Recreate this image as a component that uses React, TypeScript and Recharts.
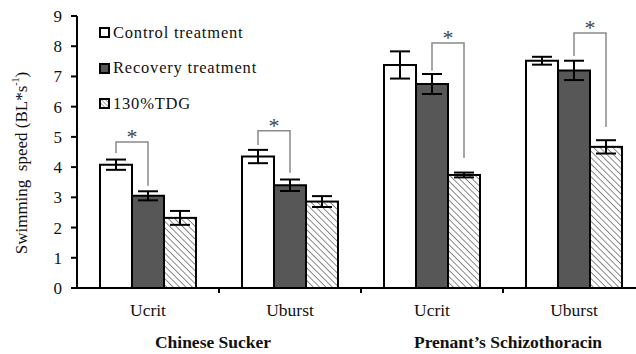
import React from 'react';
import { BarChart, Bar, XAxis, YAxis, ErrorBar, Legend } from 'recharts';

const categories = ['Ucrit', 'Uburst', 'Ucrit', 'Uburst'];
const groupLabels = ['Chinese Sucker', 'Prenant\u2019s Schizothoracin'];
const control = [4.08, 4.35, 7.38, 7.52];
const controlErr = [0.17, 0.22, 0.45, 0.13];
const recovery = [3.05, 3.4, 6.75, 7.2];
const recoveryErr = [0.15, 0.19, 0.33, 0.32];
const tdg = [2.32, 2.86, 3.74, 4.67];
const tdgErr = [0.23, 0.18, 0.08, 0.22];
// significance brackets: 0 = control vs recovery, 1 = recovery vs 130%TDG
const bracketPair = [0, 0, 1, 1];
const bracketTop = [4.83, 5.2, 8.11, 8.44];
const bracketLeftEnd = [4.47, 4.73, 7.19, 7.68];
const bracketRightEnd = [3.38, 3.81, 4.3, 5.33];
const yTicks = [0, 1, 2, 3, 4, 5, 6, 7, 8, 9];

const seriesNames = ['Control treatment', 'Recovery treatment', '130%TDG'];
const seriesKeys = ['control', 'recovery', 'tdg'];

const data = categories.map((name, i) => ({
  name,
  control: control[i],
  controlErr: controlErr[i],
  recovery: recovery[i],
  recoveryErr: recoveryErr[i],
  tdg: tdg[i],
  tdgErr: tdgErr[i],
  pair: bracketPair[i],
  bTop: bracketTop[i],
  bLeft: bracketLeftEnd[i],
  bRight: bracketRightEnd[i],
}));

const FONT = '"Liberation Serif", "Times New Roman", serif';

const TdgShape = (props: any) => {
  const { x, y, width, height, payload } = props;
  if (x == null || !payload) return null;
  const base = y + height;
  const ppu = height / payload.tdg;
  const toY = (v: number) => base - v * ppu;
  const w = width;
  const ctrlC = x - 1.5 * w;
  const recC = x - 0.5 * w;
  const tdgC = x + 0.5 * w;
  const left = payload.pair === 0 ? ctrlC : recC;
  const right = payload.pair === 0 ? recC : tdgC;
  const top = toY(payload.bTop);
  return (
    <g>
      <rect x={x} y={y} width={width} height={height} fill="url(#hatch)" stroke="#000" strokeWidth={2} />
      <polyline
        points={`${left},${toY(payload.bLeft)} ${left},${top} ${right},${top} ${right},${toY(payload.bRight)}`}
        fill="none"
        stroke="#8a8a8a"
        strokeWidth={1.5}
      />
      <text x={(left + right) / 2} y={top + 2} textAnchor="middle" fontSize={22} fill="#444" fontFamily={FONT}>
        *
      </text>
    </g>
  );
};

const XTick = (props: any) => {
  const { x, y, payload, index } = props;
  const off = payload && payload.offset ? payload.offset : 71;
  return (
    <g>
      <text x={x} y={y + 28} textAnchor="middle" fontSize={17.5} fill="#111" fontFamily={FONT}>
        {payload.value}
      </text>
      {index < categories.length - 1 && (
        <line x1={x + off} x2={x + off} y1={y} y2={y + 5} stroke="#000" strokeWidth={2} />
      )}
      {index % 2 === 0 && (
        <text
          x={x + off + (index === 0 ? -6 : 5)}
          y={y + 60}
          textAnchor="middle"
          fontSize={17.5}
          fontWeight="bold"
          fill="#111"
          fontFamily={FONT}
        >
          {groupLabels[index / 2]}
        </text>
      )}
    </g>
  );
};

const YLabel = () => (
  <text
    x={21}
    y={163}
    transform="rotate(-90 21 163)"
    textAnchor="middle"
    dominantBaseline="central"
    fontSize={17}
    fill="#111"
    fontFamily={FONT}
  >
    <tspan>Swimming&#160;&#160;speed (BL*s</tspan>
    <tspan fontSize={10} dy={-6}>-1</tspan>
    <tspan dy={6}>)</tspan>
  </text>
);

const LegendIcon = ({ k }: { k: string }) => (
  <svg width={11} height={11} style={{ display: 'block', marginRight: 3 }}>
    <defs>
      <pattern id={`lh-${k}`} width={3} height={3} patternUnits="userSpaceOnUse" patternTransform="rotate(-45)">
        <line x1={0} y1={0} x2={0} y2={3} stroke="#666" strokeWidth={1.2} />
      </pattern>
    </defs>
    <rect
      x={1}
      y={1}
      width={9}
      height={9}
      fill={k === 'control' ? '#fff' : k === 'recovery' ? '#575757' : `url(#lh-${k})`}
      stroke="#000"
      strokeWidth={2}
    />
  </svg>
);

const LegendContent = (props: any) => {
  const payload = props.payload || [];
  const items = seriesKeys.map((k, i) => {
    const found = payload.find((p: any) => p.dataKey === k);
    return { key: k, label: found ? found.value : seriesNames[i] };
  });
  return (
    <div style={{ fontFamily: FONT, fontSize: 16.5, color: '#111' }}>
      {items.map((p) => (
        <div key={p.key} style={{ display: 'flex', alignItems: 'center', height: 35.5, letterSpacing: 0.8 }}>
          <LegendIcon k={p.key} />
          <span>{p.label}</span>
        </div>
      ))}
    </div>
  );
};

export default function App() {
  return (
    <div style={{ position: 'absolute', left: 0, top: 0, width: 636, height: 354, overflow: 'hidden', background: '#fff' }}>
      <BarChart
        width={660}
        height={354}
        data={data}
        margin={{ top: 16, right: 15, bottom: 0, left: 0 }}
        barGap={0}
        barSize={32}
      >
        <defs>
          <pattern id="hatch" width={4.5} height={4.5} patternUnits="userSpaceOnUse" patternTransform="rotate(-45)">
            <rect x={0} y={0} width={4.5} height={4.5} fill="#fff" />
            <line x1={0} y1={0} x2={0} y2={4.5} stroke="#6e6e6e" strokeWidth={1.6} />
          </pattern>
        </defs>
        <XAxis
          dataKey="name"
          interval={0}
          tickLine={false}
          tickSize={0}
          tickMargin={0}
          height={66}
          axisLine={{ stroke: '#000', strokeWidth: 2 }}
          tick={<XTick />}
        />
        <YAxis
          domain={[0, 9]}
          ticks={yTicks}
          interval={0}
          width={77}
          tickSize={6}
          tickMargin={9}
          axisLine={{ stroke: '#000', strokeWidth: 2 }}
          tickLine={{ stroke: '#000', strokeWidth: 2 }}
          tick={{ fontSize: 17, fill: '#111', fontFamily: FONT }}
          label={<YLabel />}
        />
        <Legend
          layout="vertical"
          align="center"
          verticalAlign="middle"
          content={<LegendContent />}
          wrapperStyle={{ position: 'absolute', left: 99, top: 15, width: 220, margin: 0 }}
        />
        <Bar dataKey="control" name={seriesNames[0]} fill="#fff" stroke="#000" strokeWidth={2} isAnimationActive={false}>
          <ErrorBar dataKey="controlErr" direction="y" width={10} stroke="#000" strokeWidth={2} />
        </Bar>
        <Bar dataKey="recovery" name={seriesNames[1]} fill="#575757" stroke="#000" strokeWidth={2} isAnimationActive={false}>
          <ErrorBar dataKey="recoveryErr" direction="y" width={10} stroke="#000" strokeWidth={2} />
        </Bar>
        <Bar dataKey="tdg" name={seriesNames[2]} fill="#ddd" shape={<TdgShape />} isAnimationActive={false}>
          <ErrorBar dataKey="tdgErr" direction="y" width={10} stroke="#000" strokeWidth={2} />
        </Bar>
      </BarChart>
    </div>
  );
}
